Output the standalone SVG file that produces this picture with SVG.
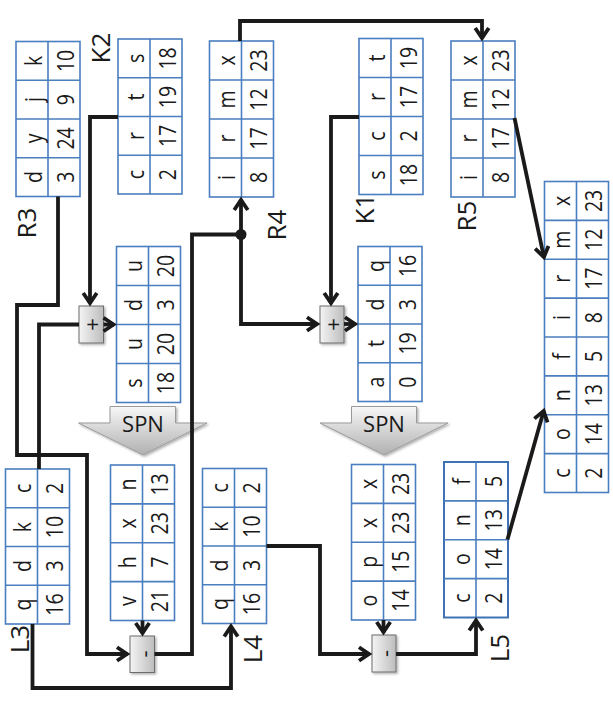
<svg xmlns="http://www.w3.org/2000/svg" width="613" height="708" viewBox="0 0 613 708">
<style>
.tb{fill:#fff;stroke:#4a7ebf;stroke-width:1.6}
.tl{fill:none;stroke:#4a7ebf;stroke-width:1.6}
.c{font-family:"Open Sans","Liberation Sans",sans-serif;font-size:23px;fill:#1a1a1a;text-anchor:middle}
.lb{font-family:"Open Sans","Liberation Sans",sans-serif;font-size:26px;fill:#1a1a1a;text-anchor:middle}
.op{fill:url(#gb);stroke:#6d6d6d;stroke-width:1;filter:url(#sh)}
.ot{font-family:"Open Sans","Liberation Sans",sans-serif;font-size:22px;fill:#1a1a1a;text-anchor:middle;dominant-baseline:central}
.spn{fill:url(#gs);stroke:#9a9a9a;stroke-width:1;filter:url(#sh)}
.st{font-family:"Open Sans","Liberation Sans",sans-serif;font-size:22px;fill:#1a1a1a;text-anchor:middle}
.w{fill:none;stroke:#1a1a1a;stroke-width:3.8;stroke-linejoin:miter}
.a{marker-end:url(#ah)}
</style>
<defs>
<linearGradient id="gb" x1="0" y1="0" x2="1" y2="0"><stop offset="0" stop-color="#f4f4f4"/><stop offset="1" stop-color="#bdbdbd"/></linearGradient>
<linearGradient id="gs" x1="0" y1="0" x2="0" y2="1"><stop offset="0" stop-color="#f7f7f7"/><stop offset="1" stop-color="#b0b0b0"/></linearGradient>
<filter id="sh" x="-20%" y="-20%" width="150%" height="150%"><feDropShadow dx="1.5" dy="1.5" stdDeviation="1.2" flood-color="#000" flood-opacity="0.3"/></filter>
<marker id="ah" viewBox="-12 -9 16 18" refX="0" refY="0" markerWidth="16" markerHeight="18" markerUnits="userSpaceOnUse" orient="auto" overflow="visible"><path d="M-10.5,-6.8 L-0.5,0 L-10.5,6.8" fill="none" stroke="#1a1a1a" stroke-width="3.8" stroke-linejoin="miter"/></marker>
</defs>
<rect width="613" height="708" fill="#fff"/>

<g id="spn-left"><path class="spn" d="M110,406.5 H175.5 V423 H207 L143,455 L78.5,423 H110 Z"/><text class="st" x="143" y="431.5">SPN</text></g>
<g id="spn-right"><path class="spn" d="M351.5,406.5 H416.5 V423 H448 L384,455 L320,423 H351.5 Z"/><text class="st" x="384" y="431.5">SPN</text></g>

<g id="R3">
<rect class="tb" x="16" y="41.5" width="64" height="155"/>
<path class="tl" d="M48,41.5V196.5 M16,80.25H80 M16,119H80 M16,157.75H80"/>
<text class="c" transform="translate(41.5,60.9) rotate(-90) scale(0.85,1)">k</text>
<text class="c" transform="translate(73.5,60.9) rotate(-90) scale(0.85,1)">10</text>
<text class="c" transform="translate(41.5,99.6) rotate(-90) scale(0.85,1)">j</text>
<text class="c" transform="translate(73.5,99.6) rotate(-90) scale(0.85,1)">9</text>
<text class="c" transform="translate(41.5,138.4) rotate(-90) scale(0.85,1)">y</text>
<text class="c" transform="translate(73.5,138.4) rotate(-90) scale(0.85,1)">24</text>
<text class="c" transform="translate(41.5,177.1) rotate(-90) scale(0.85,1)">d</text>
<text class="c" transform="translate(73.5,177.1) rotate(-90) scale(0.85,1)">3</text>
<text class="lb" transform="translate(35.5,223) rotate(-90)">R3</text>
</g>

<g id="K2">
<rect class="tb" x="118" y="39" width="64" height="155"/>
<path class="tl" d="M150,39V194 M118,77.75H182 M118,116.5H182 M118,155.25H182"/>
<text class="c" transform="translate(143.5,58.4) rotate(-90) scale(0.85,1)">s</text>
<text class="c" transform="translate(175.5,58.4) rotate(-90) scale(0.85,1)">18</text>
<text class="c" transform="translate(143.5,97.1) rotate(-90) scale(0.85,1)">t</text>
<text class="c" transform="translate(175.5,97.1) rotate(-90) scale(0.85,1)">19</text>
<text class="c" transform="translate(143.5,135.9) rotate(-90) scale(0.85,1)">r</text>
<text class="c" transform="translate(175.5,135.9) rotate(-90) scale(0.85,1)">17</text>
<text class="c" transform="translate(143.5,174.6) rotate(-90) scale(0.85,1)">c</text>
<text class="c" transform="translate(175.5,174.6) rotate(-90) scale(0.85,1)">2</text>
<text class="lb" transform="translate(109.5,48) rotate(-90)">K2</text>
</g>

<g id="R4">
<rect class="tb" x="209.5" y="41" width="64" height="156"/>
<path class="tl" d="M241.5,41V197 M209.5,80H273.5 M209.5,119H273.5 M209.5,158H273.5"/>
<text class="c" transform="translate(235,60.5) rotate(-90) scale(0.85,1)">x</text>
<text class="c" transform="translate(267,60.5) rotate(-90) scale(0.85,1)">23</text>
<text class="c" transform="translate(235,99.5) rotate(-90) scale(0.85,1)">m</text>
<text class="c" transform="translate(267,99.5) rotate(-90) scale(0.85,1)">12</text>
<text class="c" transform="translate(235,138.5) rotate(-90) scale(0.85,1)">r</text>
<text class="c" transform="translate(267,138.5) rotate(-90) scale(0.85,1)">17</text>
<text class="c" transform="translate(235,177.5) rotate(-90) scale(0.85,1)">i</text>
<text class="c" transform="translate(267,177.5) rotate(-90) scale(0.85,1)">8</text>
<text class="lb" transform="translate(285.5,225) rotate(-90)">R4</text>
</g>

<g id="K1">
<rect class="tb" x="359" y="38.5" width="64" height="156"/>
<path class="tl" d="M391,38.5V194.5 M359,77.5H423 M359,116.5H423 M359,155.5H423"/>
<text class="c" transform="translate(384.5,58) rotate(-90) scale(0.85,1)">t</text>
<text class="c" transform="translate(416.5,58) rotate(-90) scale(0.85,1)">19</text>
<text class="c" transform="translate(384.5,97) rotate(-90) scale(0.85,1)">r</text>
<text class="c" transform="translate(416.5,97) rotate(-90) scale(0.85,1)">17</text>
<text class="c" transform="translate(384.5,136) rotate(-90) scale(0.85,1)">c</text>
<text class="c" transform="translate(416.5,136) rotate(-90) scale(0.85,1)">2</text>
<text class="c" transform="translate(384.5,175) rotate(-90) scale(0.85,1)">s</text>
<text class="c" transform="translate(416.5,175) rotate(-90) scale(0.85,1)">18</text>
<text class="lb" transform="translate(373.5,209) rotate(-90)">K1</text>
</g>

<g id="R5">
<rect class="tb" x="451" y="41" width="64" height="156"/>
<path class="tl" d="M483,41V197 M451,80H515 M451,119H515 M451,158H515"/>
<text class="c" transform="translate(476.5,60.5) rotate(-90) scale(0.85,1)">x</text>
<text class="c" transform="translate(508.5,60.5) rotate(-90) scale(0.85,1)">23</text>
<text class="c" transform="translate(476.5,99.5) rotate(-90) scale(0.85,1)">m</text>
<text class="c" transform="translate(508.5,99.5) rotate(-90) scale(0.85,1)">12</text>
<text class="c" transform="translate(476.5,138.5) rotate(-90) scale(0.85,1)">r</text>
<text class="c" transform="translate(508.5,138.5) rotate(-90) scale(0.85,1)">17</text>
<text class="c" transform="translate(476.5,177.5) rotate(-90) scale(0.85,1)">i</text>
<text class="c" transform="translate(508.5,177.5) rotate(-90) scale(0.85,1)">8</text>
<text class="lb" transform="translate(475.5,216) rotate(-90)">R5</text>
</g>

<g id="result">
<rect class="tb" x="544.5" y="181.5" width="64" height="311"/>
<path class="tl" d="M576.5,181.5V492.5 M544.5,220.4H608.5 M544.5,259.25H608.5 M544.5,298.1H608.5 M544.5,337H608.5 M544.5,375.9H608.5 M544.5,414.75H608.5 M544.5,453.6H608.5"/>
<text class="c" transform="translate(570,200.9) rotate(-90) scale(0.85,1)">x</text>
<text class="c" transform="translate(602,200.9) rotate(-90) scale(0.85,1)">23</text>
<text class="c" transform="translate(570,239.8) rotate(-90) scale(0.85,1)">m</text>
<text class="c" transform="translate(602,239.8) rotate(-90) scale(0.85,1)">12</text>
<text class="c" transform="translate(570,278.7) rotate(-90) scale(0.85,1)">r</text>
<text class="c" transform="translate(602,278.7) rotate(-90) scale(0.85,1)">17</text>
<text class="c" transform="translate(570,317.6) rotate(-90) scale(0.85,1)">i</text>
<text class="c" transform="translate(602,317.6) rotate(-90) scale(0.85,1)">8</text>
<text class="c" transform="translate(570,356.4) rotate(-90) scale(0.85,1)">f</text>
<text class="c" transform="translate(602,356.4) rotate(-90) scale(0.85,1)">5</text>
<text class="c" transform="translate(570,395.3) rotate(-90) scale(0.85,1)">n</text>
<text class="c" transform="translate(602,395.3) rotate(-90) scale(0.85,1)">13</text>
<text class="c" transform="translate(570,434.2) rotate(-90) scale(0.85,1)">o</text>
<text class="c" transform="translate(602,434.2) rotate(-90) scale(0.85,1)">14</text>
<text class="c" transform="translate(570,473.1) rotate(-90) scale(0.85,1)">c</text>
<text class="c" transform="translate(602,473.1) rotate(-90) scale(0.85,1)">2</text>
</g>

<g id="sum-left">
<rect class="tb" x="116.5" y="246.5" width="64" height="156"/>
<path class="tl" d="M148.5,246.5V402.5 M116.5,285.5H180.5 M116.5,324.5H180.5 M116.5,363.5H180.5"/>
<text class="c" transform="translate(142,266) rotate(-90) scale(0.85,1)">u</text>
<text class="c" transform="translate(174,266) rotate(-90) scale(0.85,1)">20</text>
<text class="c" transform="translate(142,305) rotate(-90) scale(0.85,1)">d</text>
<text class="c" transform="translate(174,305) rotate(-90) scale(0.85,1)">3</text>
<text class="c" transform="translate(142,344) rotate(-90) scale(0.85,1)">u</text>
<text class="c" transform="translate(174,344) rotate(-90) scale(0.85,1)">20</text>
<text class="c" transform="translate(142,383) rotate(-90) scale(0.85,1)">s</text>
<text class="c" transform="translate(174,383) rotate(-90) scale(0.85,1)">18</text>
</g>

<g id="sum-right">
<rect class="tb" x="358" y="246.5" width="64" height="155"/>
<path class="tl" d="M390,246.5V401.5 M358,285.25H422 M358,324H422 M358,362.75H422"/>
<text class="c" transform="translate(383.5,265.9) rotate(-90) scale(0.85,1)">q</text>
<text class="c" transform="translate(415.5,265.9) rotate(-90) scale(0.85,1)">16</text>
<text class="c" transform="translate(383.5,304.6) rotate(-90) scale(0.85,1)">d</text>
<text class="c" transform="translate(415.5,304.6) rotate(-90) scale(0.85,1)">3</text>
<text class="c" transform="translate(383.5,343.4) rotate(-90) scale(0.85,1)">t</text>
<text class="c" transform="translate(415.5,343.4) rotate(-90) scale(0.85,1)">19</text>
<text class="c" transform="translate(383.5,382.1) rotate(-90) scale(0.85,1)">a</text>
<text class="c" transform="translate(415.5,382.1) rotate(-90) scale(0.85,1)">0</text>
</g>

<g id="L3">
<rect class="tb" x="5.5" y="469" width="64" height="155"/>
<path class="tl" d="M37.5,469V624 M5.5,507.75H69.5 M5.5,546.5H69.5 M5.5,585.25H69.5"/>
<text class="c" transform="translate(31,488.4) rotate(-90) scale(0.85,1)">c</text>
<text class="c" transform="translate(63,488.4) rotate(-90) scale(0.85,1)">2</text>
<text class="c" transform="translate(31,527.1) rotate(-90) scale(0.85,1)">k</text>
<text class="c" transform="translate(63,527.1) rotate(-90) scale(0.85,1)">10</text>
<text class="c" transform="translate(31,565.9) rotate(-90) scale(0.85,1)">d</text>
<text class="c" transform="translate(63,565.9) rotate(-90) scale(0.85,1)">3</text>
<text class="c" transform="translate(31,604.6) rotate(-90) scale(0.85,1)">q</text>
<text class="c" transform="translate(63,604.6) rotate(-90) scale(0.85,1)">16</text>
<text class="lb" transform="translate(28.5,639) rotate(-90)">L3</text>
</g>

<g id="mid-left">
<rect class="tb" x="110.5" y="465" width="64" height="155.5"/>
<path class="tl" d="M142.5,465V620.5 M110.5,503.9H174.5 M110.5,542.75H174.5 M110.5,581.6H174.5"/>
<text class="c" transform="translate(136,484.4) rotate(-90) scale(0.85,1)">n</text>
<text class="c" transform="translate(168,484.4) rotate(-90) scale(0.85,1)">13</text>
<text class="c" transform="translate(136,523.3) rotate(-90) scale(0.85,1)">x</text>
<text class="c" transform="translate(168,523.3) rotate(-90) scale(0.85,1)">23</text>
<text class="c" transform="translate(136,562.2) rotate(-90) scale(0.85,1)">h</text>
<text class="c" transform="translate(168,562.2) rotate(-90) scale(0.85,1)">7</text>
<text class="c" transform="translate(136,601.1) rotate(-90) scale(0.85,1)">v</text>
<text class="c" transform="translate(168,601.1) rotate(-90) scale(0.85,1)">21</text>
</g>

<g id="L4">
<rect class="tb" x="202.5" y="468.5" width="64" height="155"/>
<path class="tl" d="M234.5,468.5V623.5 M202.5,507.25H266.5 M202.5,546H266.5 M202.5,584.75H266.5"/>
<text class="c" transform="translate(228,487.9) rotate(-90) scale(0.85,1)">c</text>
<text class="c" transform="translate(260,487.9) rotate(-90) scale(0.85,1)">2</text>
<text class="c" transform="translate(228,526.6) rotate(-90) scale(0.85,1)">k</text>
<text class="c" transform="translate(260,526.6) rotate(-90) scale(0.85,1)">10</text>
<text class="c" transform="translate(228,565.4) rotate(-90) scale(0.85,1)">d</text>
<text class="c" transform="translate(260,565.4) rotate(-90) scale(0.85,1)">3</text>
<text class="c" transform="translate(228,604.1) rotate(-90) scale(0.85,1)">q</text>
<text class="c" transform="translate(260,604.1) rotate(-90) scale(0.85,1)">16</text>
<text class="lb" transform="translate(261.5,649) rotate(-90)">L4</text>
</g>

<g id="mid-right">
<rect class="tb" x="351.5" y="464.5" width="64" height="155.5"/>
<path class="tl" d="M383.5,464.5V620 M351.5,503.4H415.5 M351.5,542.25H415.5 M351.5,581.1H415.5"/>
<text class="c" transform="translate(377,483.9) rotate(-90) scale(0.85,1)">x</text>
<text class="c" transform="translate(409,483.9) rotate(-90) scale(0.85,1)">23</text>
<text class="c" transform="translate(377,522.8) rotate(-90) scale(0.85,1)">x</text>
<text class="c" transform="translate(409,522.8) rotate(-90) scale(0.85,1)">23</text>
<text class="c" transform="translate(377,561.7) rotate(-90) scale(0.85,1)">p</text>
<text class="c" transform="translate(409,561.7) rotate(-90) scale(0.85,1)">15</text>
<text class="c" transform="translate(377,600.6) rotate(-90) scale(0.85,1)">o</text>
<text class="c" transform="translate(409,600.6) rotate(-90) scale(0.85,1)">14</text>
</g>

<g id="L5">
<rect class="tb" x="444" y="462" width="64" height="155.5" style="stroke:#3f72b4;stroke-width:2"/>
<path class="tl" d="M476,462V617.5 M444,500.9H508 M444,539.75H508 M444,578.6H508"/>
<text class="c" transform="translate(469.5,481.4) rotate(-90) scale(0.85,1)">f</text>
<text class="c" transform="translate(501.5,481.4) rotate(-90) scale(0.85,1)">5</text>
<text class="c" transform="translate(469.5,520.3) rotate(-90) scale(0.85,1)">n</text>
<text class="c" transform="translate(501.5,520.3) rotate(-90) scale(0.85,1)">13</text>
<text class="c" transform="translate(469.5,559.2) rotate(-90) scale(0.85,1)">o</text>
<text class="c" transform="translate(501.5,559.2) rotate(-90) scale(0.85,1)">14</text>
<text class="c" transform="translate(469.5,598.1) rotate(-90) scale(0.85,1)">c</text>
<text class="c" transform="translate(501.5,598.1) rotate(-90) scale(0.85,1)">2</text>
<text class="lb" transform="translate(508.5,648) rotate(-90)">L5</text>
</g>

<g id="plus-left"><rect class="op" x="79" y="306" width="24.5" height="37"/><text class="ot" transform="translate(91,324.5) rotate(-90)">+</text></g>
<g id="plus-right"><rect class="op" x="320" y="306" width="24" height="37"/><text class="ot" transform="translate(332,324.5) rotate(-90)">+</text></g>
<g id="minus-left"><rect class="op" x="130" y="636" width="24.5" height="36.5"/><text class="ot" transform="translate(142.5,654) rotate(-90)">-</text></g>
<g id="minus-right"><rect class="op" x="372" y="635" width="24" height="37"/><text class="ot" transform="translate(384,653.5) rotate(-90)">-</text></g>

<g id="connectors">
<path class="w a" d="M58,196.5 V305 H17 V455 H87 V654 H127.5"/>
<path class="w" d="M39,469 V324.5 H79"/>
<path class="w a" d="M118,117 H90 V303.5"/>
<path class="w a" d="M103.5,324.5 H114"/>
<path class="w a" d="M154.5,654 H192 V234.5 H241 V199.5"/>
<path class="w a" d="M241,234.5 V324 H317.5"/>
<circle cx="241" cy="234.5" r="5.5" fill="#1a1a1a"/>
<path class="w a" d="M359,117 H331 V303.5"/>
<path class="w a" d="M344,324 H355.5"/>
<path class="w a" d="M240,41 V21 H482 V38.5"/>
<path class="w a" d="M514.5,118 L544,257.6"/>
<path class="w a" d="M507.5,539.5 L543.8,410.4"/>
<path class="w a" d="M32.5,624 V688 H231 V626"/>
<path class="w a" d="M266.5,546 H320 V654 H369.5"/>
<path class="w a" d="M142.5,620.5 V633.5"/>
<path class="w a" d="M383.5,620 V632.5"/>
<path class="w a" d="M396,654 H476 V620"/>
</g>
</svg>
